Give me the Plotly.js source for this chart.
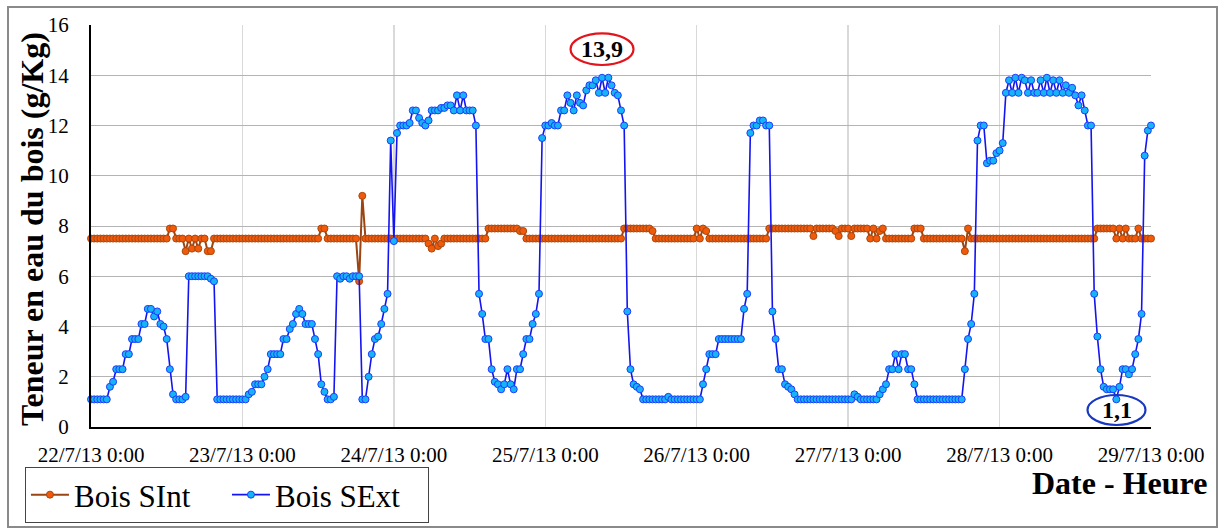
<!DOCTYPE html>
<html>
<head>
<meta charset="utf-8">
<script src="https://cdn.plot.ly/plotly-3.0.1.min.js"></script>
<style>
html,body{margin:0;padding:0;background:#fff;}
#wrap{position:relative;width:1218px;height:529px;}
#chart{width:1218px;height:529px;}
#frame{position:absolute;left:7px;top:6px;width:1207px;height:518px;border:2px solid #8a8a8a;pointer-events:none;}
</style>
</head>
<body>
<div id="wrap"><div id="chart"></div><div id="frame"></div></div>
<script>
// Tick labels (one per day)
const tickDates = ['2013-07-22','2013-07-23','2013-07-24','2013-07-25','2013-07-26','2013-07-27','2013-07-28','2013-07-29'];
const tickLabels = ['22/7/13 0:00','23/7/13 0:00','24/7/13 0:00','25/7/13 0:00','26/7/13 0:00','27/7/13 0:00','28/7/13 0:00','29/7/13 0:00'];

// Bois SExt, 30-minute readings, one array per day
const sext22 = [1.1,1.1,1.1,1.1,1.1,1.1,1.6,1.8,2.3,2.3,2.3,2.9,2.9,3.5,3.5,3.5,4.1,4.1,4.7,4.7,4.4,4.6,4.1,4.0,3.5,2.3,1.3,1.1,1.1,1.1,1.2,6.0,6.0,6.0,6.0,6.0,6.0,6.0,5.9,5.8,1.1,1.1,1.1,1.1,1.1,1.1,1.1,1.1];
const sext23 = [1.1,1.1,1.3,1.4,1.7,1.7,1.7,2.0,2.3,2.9,2.9,2.9,2.9,3.5,3.5,3.9,4.1,4.5,4.7,4.5,4.1,4.1,4.1,3.5,2.9,1.7,1.4,1.1,1.1,1.2,6.0,5.9,6.0,6.0,5.9,6.0,6.0,6.0,1.1,1.1,2.0,2.9,3.5,3.6,4.1,4.7,5.3,11.4];
const sext24 = [7.4,11.7,12.0,12.0,12.0,12.1,12.6,12.6,12.3,12.1,12.0,12.2,12.6,12.6,12.6,12.7,12.7,12.8,12.8,12.6,13.2,12.6,13.2,12.6,12.6,12.6,12.0,5.3,4.5,3.5,3.5,2.3,1.8,1.7,1.5,1.7,2.3,1.7,1.5,2.3,2.3,2.9,3.5,3.5,4.1,4.5,5.3,11.5];
const sext25 = [12.0,12.0,12.1,12.0,12.0,12.6,12.6,13.2,12.9,12.6,13.2,12.9,12.8,13.4,13.6,13.6,13.8,13.3,13.9,13.3,13.9,13.6,13.3,13.2,12.6,12.0,4.6,2.3,1.7,1.6,1.5,1.1,1.1,1.1,1.1,1.1,1.1,1.1,1.1,1.2,1.1,1.1,1.1,1.1,1.1,1.1,1.1,1.1];
const sext26 = [1.1,1.1,1.7,2.3,2.9,2.9,2.9,3.5,3.5,3.5,3.5,3.5,3.5,3.5,3.5,4.7,5.3,11.7,12.0,12.0,12.2,12.2,12.0,12.0,4.6,3.5,2.3,2.3,1.7,1.6,1.5,1.3,1.1,1.1,1.1,1.1,1.1,1.1,1.1,1.1,1.1,1.1,1.1,1.1,1.1,1.1,1.1,1.1];
const sext27 = [1.1,1.1,1.3,1.2,1.1,1.1,1.1,1.1,1.1,1.1,1.3,1.5,1.7,2.3,2.3,2.9,2.3,2.9,2.9,2.3,2.3,1.7,1.1,1.1,1.1,1.1,1.1,1.1,1.1,1.1,1.1,1.1,1.1,1.1,1.1,1.1,1.1,2.3,3.5,4.1,5.3,11.4,12.0,12.0,10.5,10.6,10.6,10.9];
const sext28 = [11.0,11.3,13.3,13.8,13.3,13.9,13.3,13.9,13.8,13.3,13.8,13.3,13.3,13.8,13.3,13.9,13.3,13.8,13.3,13.8,13.3,13.6,13.3,13.5,13.2,12.8,13.2,12.6,12.0,12.0,5.3,3.6,2.3,1.6,1.5,1.5,1.5,1.1,1.6,2.3,2.3,2.1,2.3,2.9,3.5,4.5,10.8,11.8,12.0];

// Bois SInt, 30-minute readings, one array per day
const sint22 = [7.5,7.5,7.5,7.5,7.5,7.5,7.5,7.5,7.5,7.5,7.5,7.5,7.5,7.5,7.5,7.5,7.5,7.5,7.5,7.5,7.5,7.5,7.5,7.5,7.5,7.9,7.9,7.5,7.5,7.5,7.0,7.5,7.1,7.5,7.1,7.5,7.5,7.0,7.0,7.5,7.5,7.5,7.5,7.5,7.5,7.5,7.5,7.5];
const sint23 = [7.5,7.5,7.5,7.5,7.5,7.5,7.5,7.5,7.5,7.5,7.5,7.5,7.5,7.5,7.5,7.5,7.5,7.5,7.5,7.5,7.5,7.5,7.5,7.5,7.5,7.9,7.9,7.5,7.5,7.5,7.5,7.5,7.5,7.5,7.5,7.5,7.5,5.8,9.2,7.5,7.5,7.5,7.5,7.5,7.5,7.5,7.5,7.5];
const sint24 = [7.5,7.5,7.5,7.5,7.5,7.5,7.5,7.5,7.5,7.5,7.5,7.3,7.1,7.5,7.2,7.3,7.5,7.5,7.5,7.5,7.5,7.5,7.5,7.5,7.5,7.5,7.5,7.5,7.5,7.5,7.9,7.9,7.9,7.9,7.9,7.9,7.9,7.9,7.9,7.9,7.8,7.8,7.5,7.5,7.5,7.5,7.5,7.5];
const sint25 = [7.5,7.5,7.5,7.5,7.5,7.5,7.5,7.5,7.5,7.5,7.5,7.5,7.5,7.5,7.5,7.5,7.5,7.5,7.5,7.5,7.5,7.5,7.5,7.5,7.5,7.9,7.9,7.9,7.9,7.9,7.9,7.9,7.9,7.9,7.8,7.5,7.5,7.5,7.5,7.5,7.5,7.5,7.5,7.5,7.5,7.5,7.5,7.5];
const sint26 = [7.9,7.5,7.9,7.8,7.5,7.5,7.5,7.5,7.5,7.5,7.5,7.5,7.5,7.5,7.5,7.5,7.5,7.5,7.5,7.5,7.5,7.5,7.5,7.9,7.9,7.9,7.9,7.9,7.9,7.9,7.9,7.9,7.9,7.9,7.9,7.9,7.9,7.6,7.9,7.9,7.9,7.9,7.9,7.9,7.8,7.6,7.9,7.9];
const sint27 = [7.9,7.6,7.9,7.9,7.9,7.9,7.9,7.5,7.9,7.5,7.8,7.9,7.5,7.5,7.5,7.5,7.5,7.5,7.5,7.5,7.5,7.9,7.9,7.9,7.5,7.5,7.5,7.5,7.5,7.5,7.5,7.5,7.5,7.5,7.5,7.5,7.5,7.0,7.9,7.5,7.5,7.5,7.5,7.5,7.5,7.5,7.5,7.5];
const sint28 = [7.5,7.5,7.5,7.5,7.5,7.5,7.5,7.5,7.5,7.5,7.5,7.5,7.5,7.5,7.5,7.5,7.5,7.5,7.5,7.5,7.5,7.5,7.5,7.5,7.5,7.5,7.5,7.5,7.5,7.5,7.5,7.9,7.9,7.9,7.9,7.9,7.9,7.5,7.9,7.5,7.9,7.5,7.5,7.5,7.9,7.5,7.5,7.5,7.5];

const sext = [].concat(sext22, sext23, sext24, sext25, sext26, sext27, sext28);
const sint = [].concat(sint22, sint23, sint24, sint25, sint26, sint27, sint28);

// timestamps: every 30 minutes from 22/7/2013 0:00
const start = Date.UTC(2013, 6, 22, 0, 0);
function pad(n){return (n<10?'0':'')+n;}
function stamp(i){
  const d = new Date(start + i*30*60*1000);
  return d.getUTCFullYear()+'-'+pad(d.getUTCMonth()+1)+'-'+pad(d.getUTCDate())+' '+pad(d.getUTCHours())+':'+pad(d.getUTCMinutes());
}
const times = sext.map((v,i)=>stamp(i));

const serif = '"Liberation Serif","Times New Roman",serif';

const traces = [
  {x: times, y: sint, name: 'Bois SInt', type: 'scatter', mode: 'lines+markers', cliponaxis: false,
   line: {color: '#9a4513', width: 2},
   marker: {size: 7, color: '#f05a0a', line: {color: '#a8480f', width: 1}}},
  {x: times, y: sext, name: 'Bois SExt', type: 'scatter', mode: 'lines+markers', cliponaxis: false,
   line: {color: '#1414f0', width: 1.6},
   marker: {size: 7, color: '#16b4f4', line: {color: '#1e3cff', width: 1}}}
];

const layout = {
  width: 1218, height: 529,
  margin: {l: 91, r: 67, t: 25, b: 102, pad: 0, autoexpand: false},
  paper_bgcolor: '#ffffff', plot_bgcolor: '#ffffff',
  font: {family: serif, color: '#000'},
  showlegend: true,
  xaxis: {
    type: 'date', range: [tickDates[0], tickDates[tickDates.length-1]],
    tickmode: 'array', tickvals: tickDates, ticktext: tickLabels,
    tickfont: {size: 21, family: serif, color: '#000'},
    showgrid: true, gridcolor: '#d9d9d9', gridwidth: 1.5,
    showline: true, linecolor: '#000', linewidth: 2, zeroline: false,
    ticks: '', ticklabelstandoff: 8, fixedrange: true, automargin: false
  },
  yaxis: {
    range: [0, 16], tick0: 0, dtick: 2,
    tickfont: {size: 21, family: serif, color: '#000'},
    showgrid: true, gridcolor: '#b4b4b4', gridwidth: 1,
    showline: true, linecolor: '#000', linewidth: 2, zeroline: false,
    ticks: '', ticklabelstandoff: 16, fixedrange: true, automargin: false
  },
  legend: {
    orientation: 'h', x: -0.0623, y: -0.2388, xanchor: 'left', yanchor: 'bottom',
    bordercolor: '#444', borderwidth: 1, bgcolor: '#fff',
    font: {size: 31, family: serif, color: '#000'},
    itemwidth: 38, tracegroupgap: 0, entrywidth: 148, entrywidthmode: 'pixels'
  },
  annotations: [
    {text: 'Teneur en eau du bois (g/Kg)', textangle: -90, xref: 'paper', yref: 'paper',
     x: -0.0557, y: 0.4925, xanchor: 'center', yanchor: 'middle', showarrow: false,
     font: {size: 32, family: serif, weight: 700, color: '#000'}},
    {text: 'Date - Heure', xref: 'paper', yref: 'paper', x: 1.0547, y: -0.139,
     xanchor: 'right', yanchor: 'middle', showarrow: false,
     font: {size: 32, family: serif, weight: 700, color: '#000'}},
    {text: '13,9', xref: 'paper', yref: 'paper', x: 0.482, y: 0.940,
     xanchor: 'center', yanchor: 'middle', showarrow: false,
     font: {size: 24, family: serif, weight: 700, color: '#000'}},
    {text: '1,1', xref: 'paper', yref: 'paper', x: 0.9675, y: 0.0423,
     xanchor: 'center', yanchor: 'middle', showarrow: false,
     font: {size: 24, family: serif, weight: 700, color: '#000'}}
  ],
  shapes: [
    {type: 'circle', xref: 'paper', yref: 'paper', x0: 0.4524, x1: 0.5118, y0: 0.9005, y1: 0.9794,
     line: {color: '#e3141b', width: 2.2}, layer: 'above'},
    {type: 'circle', xref: 'paper', yref: 'paper', x0: 0.9401, x1: 0.9948, y0: 0.005, y1: 0.0796,
     line: {color: '#1838c0', width: 2.2}, layer: 'above'}
  ]
};

Plotly.newPlot('chart', traces, layout, {displayModeBar: false, staticPlot: true});
</script>
</body>
</html>
